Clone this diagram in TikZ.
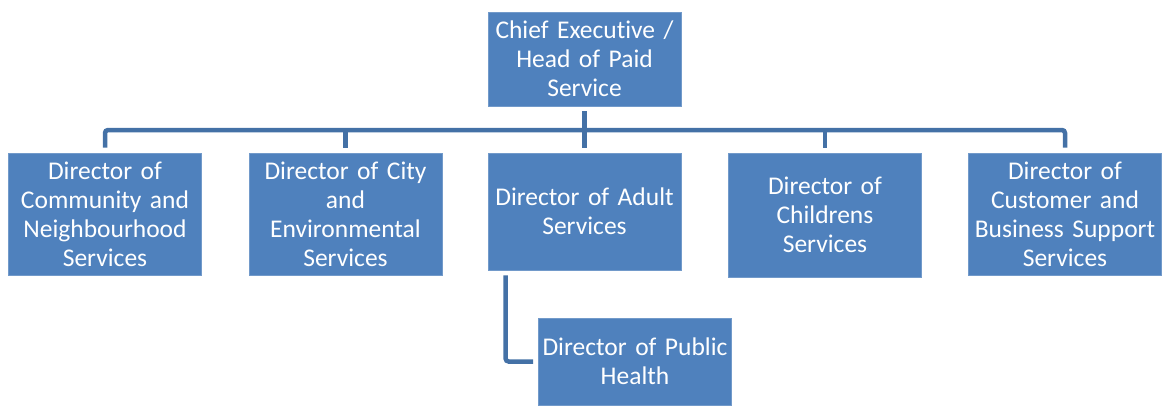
\documentclass[tikz,border=0pt]{standalone}
\usepackage{fontspec}
\setmainfont[Ligatures={NoCommon,NoRequired,NoContextual},WordSpace=0.75]{Carlito}
\usepackage{tikz}
\usetikzlibrary{positioning,calc}
\definecolor{postblue}{RGB}{79,129,189}
\definecolor{linkblue}{RGB}{68,113,166}
\tikzstyle{post} = [rectangle, minimum width=193pt, minimum height=122pt, inner sep=0pt, text width=193pt, align=center, draw=postblue!80!white, line width=0.8pt, fill=postblue, text=white, font=\fontsize{25.5}{29}\selectfont]
\tikzset{link/.style={draw=linkblue, line width=4.5pt, rounded corners=3pt, shorten <=5pt, shorten >=5pt}
}

\begin{document}
\begin{tikzpicture}[x=1pt,y=-1pt]
\useasboundingbox (0,0) rectangle (1162,405);
\node (chief) [post, minimum height=94pt] at (584.5,59) {Chief Executive /\\ Head of Paid\\ Service};
\node (comm) [post] at (105,214) {Director of\\ Community and\\ Neighbourhood\\ Services};
\node (city) [post] at (345.5,214) {Director of City\\ and\\ Environmental\\ Services};
\node (adult) [post, minimum height=117pt] at (584.5,211.5) {Director of Adult\\ Services};
\node (child) [post, minimum height=124pt] at (825,215) {Director of\\ Childrens\\ Services};
\node (cust) [post] at (1065,214) {Director of\\ Customer and\\ Business Support\\ Services};
\node (health) [post, minimum height=87pt] at (635,361.5) {Director of Public\\ Health};

\coordinate (barl) at (105,130);
\coordinate (barr) at (1065,130);
\draw [link] (comm.north) -- (barl) -- (barr) -- (cust.north);
\draw [link, shorten >=0pt] (chief.south) -- (chief.south |- barl);
\draw [link, shorten <=0pt] (city.north |- barl) -- (city.north);
\draw [link, shorten <=0pt] (adult.north |- barl) -- (adult.north);
\draw [link, shorten <=0pt] (child.north |- barl) -- (child.north);
\draw [link] ([xshift=18pt]adult.south west) |- (health.west);
\end{tikzpicture}
\end{document}
